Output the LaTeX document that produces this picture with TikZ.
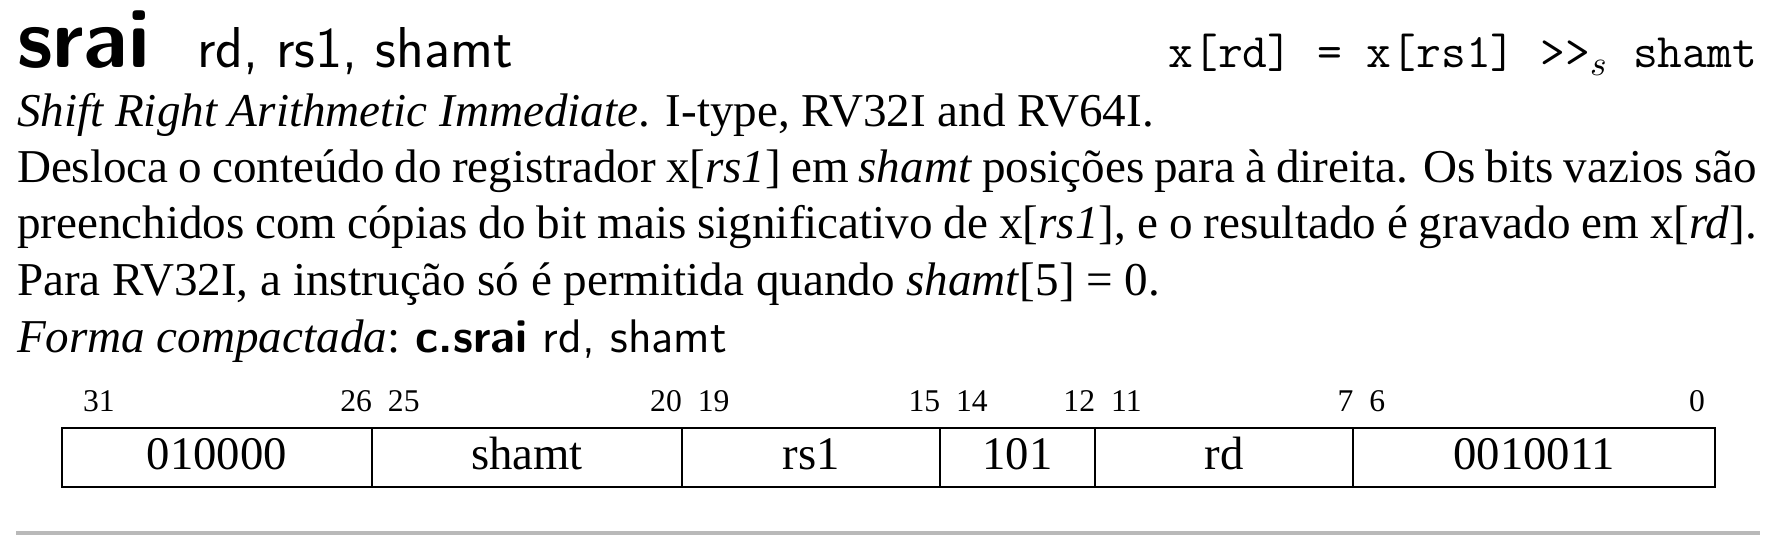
\documentclass[tikz,border=0pt]{standalone}
\usepackage{fontspec}
\setmainfont{Liberation Serif}
\usetikzlibrary{positioning}

\tikzset{
  txt/.style={anchor=base west, inner sep=0pt, outer sep=0pt, font=\fontsize{13.4}{16}\selectfont},
  field/.style={draw, line width=.55pt, inner sep=0pt, outer sep=0pt, minimum height=5.9mm,
    text height=9.2pt, text depth=2.6pt, font=\fontsize{13.3}{16}\selectfont},
  bitnum/.style={inner sep=0pt, outer sep=0pt, font=\fontsize{9}{10}\selectfont},
}
\newcommand{\bw}{5.1656mm}

\begin{document}
\begin{tikzpicture}[x=0.1mm, y=-0.1mm]
\useasboundingbox (0,0) rectangle (1772,554);

% Header
\node[txt] (mnemonic) at (17,68) {\fontsize{24}{28}\selectfont\sffamily\bfseries srai};
\node[txt] (operands) at (197,68) {\fontsize{16.4}{19}\selectfont\sffamily rd, rs1, shamt};
\node[txt, anchor=base east] (semantics) at (1757,68) {\fontsize{13.7}{16}\selectfont\ttfamily x[rd] = x[rs1] >>$_s$ shamt};

% Description
\node[txt] (fullname) at (17,127) {\textit{Shift Right Arithmetic Immediate}. I-type, RV32I and RV64I.};
\node[txt] (desc1) at (17,182) {\makebox[174mm][s]{Desloca o conteúdo do registrador x[\textit{rs1}] em \textit{shamt} posições para à direita. Os bits vazios são}};
\node[txt] (desc2) at (17,238) {\makebox[174mm][s]{preenchidos com cópias do bit mais significativo de x[\textit{rs1}], e o resultado é gravado em x[\textit{rd}].}};
\node[txt] (desc3) at (17,295) {Para RV32I, a instrução só é permitida quando \textit{shamt}[5] = 0.};
\node[txt] (compact) at (17,352) {\textit{Forma compactada}: \textsf{\textbf{c.srai} rd, shamt}};

% Encoding
\node[field, minimum width=6*\bw, anchor=north west] (funct6) at (62,428) {010000};
\node[field, minimum width=6*\bw, right=0pt of funct6] (shamt) {shamt};
\node[field, minimum width=5*\bw, right=0pt of shamt] (rs1) {rs1};
\node[field, minimum width=3*\bw, right=0pt of rs1] (funct3) {101};
\node[field, minimum width=5*\bw, right=0pt of funct3] (rd) {rd};
\node[field, minimum width=7*\bw, right=0pt of rd] (opcode) {0010011};

% Bit numbers
\node[bitnum, anchor=base west] (b31) at ([xshift=2.1mm, yshift=1.7mm]funct6.north west) {31};
\node[bitnum, anchor=base east] (b26) at ([yshift=1.7mm]funct6.north east) {26};
\node[bitnum, anchor=base west] (b25) at ([xshift=1.6mm, yshift=1.7mm]shamt.north west) {25};
\node[bitnum, anchor=base east] (b20) at ([yshift=1.7mm]shamt.north east) {20};
\node[bitnum, anchor=base west] (b19) at ([xshift=1.6mm, yshift=1.7mm]rs1.north west) {19};
\node[bitnum, anchor=base east] (b15) at ([yshift=1.7mm]rs1.north east) {15};
\node[bitnum, anchor=base west] (b14) at ([xshift=1.6mm, yshift=1.7mm]funct3.north west) {14};
\node[bitnum, anchor=base east] (b12) at ([yshift=1.7mm]funct3.north east) {12};
\node[bitnum, anchor=base west] (b11) at ([xshift=1.6mm, yshift=1.7mm]rd.north west) {11};
\node[bitnum, anchor=base east] (b7) at ([yshift=1.7mm]rd.north east) {7};
\node[bitnum, anchor=base west] (b6) at ([xshift=1.6mm, yshift=1.7mm]opcode.north west) {6};
\node[bitnum, anchor=base east] (b0) at ([xshift=-1mm, yshift=1.7mm]opcode.north east) {0};

% Separator
\draw[gray!55, line width=1.2pt] (16,533) -- (1760,533);
\end{tikzpicture}
\end{document}
